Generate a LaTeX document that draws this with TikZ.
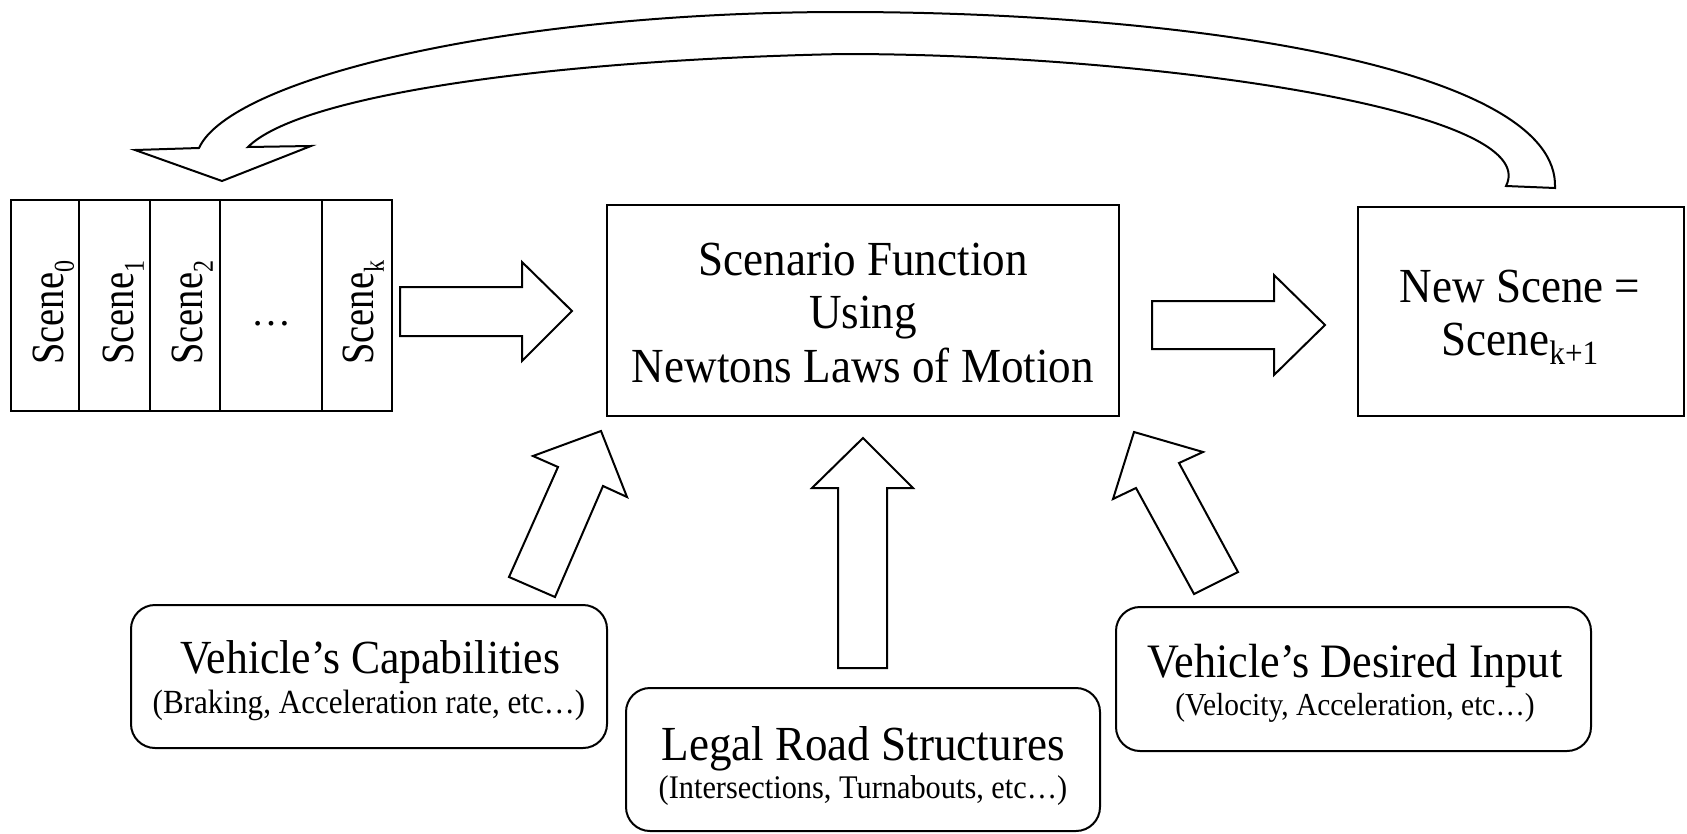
\documentclass[tikz,border=0pt]{standalone}
\usepackage{fontspec}
\setmainfont{Liberation Serif}
\newfontfamily\wfont[FakeStretch=0.92]{Liberation Serif}
\newcommand{\lowsub}[3]{\raisebox{-#3pt}{\fontsize{#1}{#1}\selectfont #2}}
\tikzset{
  box/.style={draw, line width=2pt, inner sep=0pt},
  rbox/.style={draw, line width=2pt, rounded corners=24pt, inner sep=0pt},
  blk/.style={draw, line width=2pt, line join=miter, fill=white},
  bigtxt/.style={font=\wfont\fontsize{49}{54}\selectfont, inner sep=0pt, anchor=base},
  subtxt/.style={font=\wfont\fontsize{33}{36}\selectfont, inner sep=0pt, anchor=base},
  scenetxt/.style={font=\fontsize{38.5}{42}\selectfont, inner sep=0pt, rotate=90, yscale=1.2, anchor=base west},
}
\begin{document}
\begin{tikzpicture}[x=1pt, y=-1pt]
\useasboundingbox (0,0) rectangle (1687,833);
\fill[white] (0,0) rectangle (1687,833);

% scene stack
\node[box, minimum width=68, minimum height=211] (c0) at (45,305.5) {};
\node[box, minimum width=71, minimum height=211] (c1) at (114.5,305.5) {};
\node[box, minimum width=70, minimum height=211] (c2) at (185,305.5) {};
\node[box, minimum width=102, minimum height=211] (c3) at (271,305.5) {};
\node[box, minimum width=70, minimum height=211] (c4) at (357,305.5) {};
\node[scenetxt] (t0) at (63,365) {Scene\lowsub{24}{0}{9}};
\node[scenetxt] (t1) at (133,365) {Scene\lowsub{24}{1}{9}};
\node[scenetxt] (t2) at (202,365) {Scene\lowsub{24}{2}{9}};
\node[scenetxt] (tk) at (373,365) {Scene\lowsub{24}{k}{9}};
\node[font=\fontsize{40}{40}\selectfont, inner sep=0pt, anchor=base] (dots) at (271,325) {…};

% scenario box
\node[box, minimum width=512, minimum height=211] (scen) at (863,310.5) {};
\node[bigtxt] (sc1) at (863,275) {Scenario Function};
\node[bigtxt] (sc2) at (863,328) {Using};
\node[bigtxt] (sc3) at (863,382) {Newtons Laws of Motion};

% new scene box
\node[box, minimum width=326, minimum height=209] (new) at (1521,311.5) {};
\node[bigtxt] (ns1) at (1520,302) {New Scene =};
\node[bigtxt] (ns2) at (1520,355) {Scene\lowsub{34}{k+1}{9}};

% bottom boxes
\node[rbox, minimum width=476, minimum height=143] (cap) at (369,676.5) {};
\node[bigtxt, font=\wfont\fontsize{47.5}{50}\selectfont] (capt) at (370,673) {Vehicle’s Capabilities};
\node[subtxt, font=\wfont\fontsize{33.8}{36}\selectfont] (caps) at (369,713) {(Braking, Acceleration rate, etc…)};

\node[rbox, minimum width=474, minimum height=143] (legal) at (863,759.5) {};
\node[bigtxt] (legt) at (863,760) {Legal Road Structures};
\node[subtxt] (legs) at (863,798) {(Intersections, Turnabouts, etc…)};

\node[rbox, minimum width=475, minimum height=144] (des) at (1353.5,679) {};
\node[bigtxt, font=\wfont\fontsize{48}{52}\selectfont] (dest) at (1355,677) {Vehicle’s Desired Input};
\node[subtxt, font=\wfont\fontsize{32}{36}\selectfont] (dess) at (1355,715) {(Velocity, Acceleration, etc…)};

% block arrows
\draw[blk] (400,287) -- (522,287) -- (522,262) -- (572,311) -- (522,361) -- (522,336) -- (400,336) -- cycle;
\draw[blk] (1152,301) -- (1274,301) -- (1274,275) -- (1325,325) -- (1274,375) -- (1274,349) -- (1152,349) -- cycle;
\draw[blk] (601,431) -- (627,497) -- (603,486) -- (555,597) -- (509,577) -- (558,467) -- (533,456) -- cycle;
\draw[blk] (863,438) -- (913,488) -- (887,488) -- (887,668) -- (838,668) -- (838,488) -- (812,488) -- cycle;
\draw[blk] (1134,432) -- (1203,452) -- (1179,463) -- (1238,572) -- (1194,594) -- (1136,488) -- (1113,499) -- cycle;

% curved feedback arrow
\coordinate (tailout) at (1555,188);
\coordinate (tailin) at (1506,186);
\coordinate (tip) at (222,181);
\draw[blk] (tailout) .. controls (1560,70) and (1200,12) .. (843,12)
  .. controls (500,12) and (230,80) .. (199,148)
  -- (135,150) -- (tip) -- (311,146) -- (248,147)
  .. controls (300,95) and (550,60) .. (843,54)
  .. controls (1150,54) and (1545,110) .. (tailin) -- cycle;
\end{tikzpicture}
\end{document}
